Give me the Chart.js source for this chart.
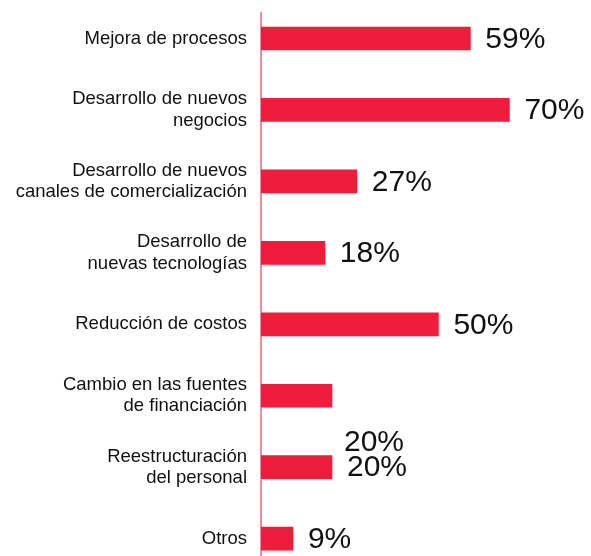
<!DOCTYPE html>
<html>
<head>
    <meta charset="UTF-8">
    <title>Objetivos</title>
    <script src="https://cdn.jsdelivr.net/npm/chart.js"></script>
    <style>
        html, body { margin: 0; padding: 0; background: #fff; overflow: hidden; }
        #wrap { width: 591px; height: 556px; }
    </style>
</head>
<body>
<div id="wrap"><canvas id="chart" width="591" height="556"></canvas></div>

<script>
    // category labels (multi-line) and values in %
    const categories = [
        ['Mejora de procesos'],
        ['Desarrollo de nuevos', 'negocios'],
        ['Desarrollo de nuevos', 'canales de comercialización'],
        ['Desarrollo de', 'nuevas tecnologías'],
        ['Reducción de costos'],
        ['Cambio en las fuentes', 'de financiación'],
        ['Reestructuración', 'del personal'],
        ['Otros']
    ];
    const values = [59, 70, 27, 18, 50, 20, 20, 9];

    const FONT = '"Liberation Sans", Arial, Helvetica, sans-serif';
    const BAR_RED = '#EE1D3B';

    // value labels drawn to the right of each bar
    const valueLabels = {
        id: 'valueLabels',
        afterDatasetsDraw(chart) {
            const ctx = chart.ctx;
            const meta = chart.getDatasetMeta(0);
            ctx.save();
            ctx.font = '30px ' + FONT;
            ctx.fillStyle = '#111';
            ctx.textAlign = 'left';
            ctx.textBaseline = 'middle';
            meta.data.forEach((bar, i) => {
                let x = bar.x + 15;
                let y = bar.y + 1;
                // the original has the "Cambio..." label slipped down onto the next row
                if (i === 5) { x -= 3; y += 46; }
                ctx.fillText(values[i] + '%', x, y);
            });
            ctx.restore();
        }
    };

    const ctx = document.getElementById('chart').getContext('2d');
    new Chart(ctx, {
        type: 'bar',
        data: {
            datasets: [{
                data: values.map((v, i) => ({ x: v, y: i })),
                backgroundColor: BAR_RED,
                borderWidth: 0,
                barThickness: 23
            }]
        },
        options: {
            indexAxis: 'y',
            responsive: false,
            animation: false,
            layout: { padding: { top: 13, left: 0, right: 0, bottom: 0 } },
            plugins: {
                legend: { display: false },
                tooltip: { enabled: false }
            },
            scales: {
                x: {
                    type: 'linear',
                    display: false,
                    min: 0,
                    max: 93
                },
                y: {
                    type: 'linear',
                    reverse: true,
                    offset: false,
                    min: -0.357,
                    max: 7.243,
                    afterFit(scale) {
                        scale.width = 261;
                        scale.paddingTop = 0;
                        scale.paddingBottom = 0;
                    },
                    grid: { display: false, drawTicks: false, offset: false },
                    border: { display: true, color: '#F4899C', width: 2 },
                    ticks: {
                        stepSize: 1,
                        includeBounds: false,
                        autoSkip: false,
                        padding: 14,
                        color: '#111',
                        font: { family: FONT, size: 18.5, lineHeight: 1.15 },
                        callback: (v) => Number.isInteger(v) && categories[v] ? categories[v] : ''
                    }
                }
            }
        },
        plugins: [valueLabels]
    });
</script>
</body>
</html>
